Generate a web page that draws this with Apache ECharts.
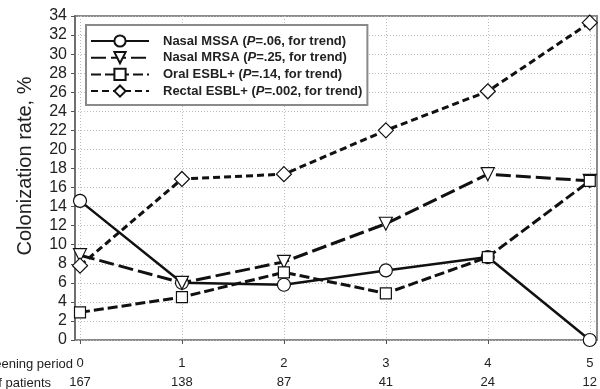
<!DOCTYPE html>
<html>
<head>
<meta charset="utf-8">
<script src="https://cdn.jsdelivr.net/npm/echarts@6/dist/echarts.min.js"></script>
<style>
html,body{margin:0;padding:0;background:#fff;}
#c{width:600px;height:389px;}
</style>
</head>
<body>
<div id="c"></div>
<script>
const categories = ['0', '1', '2', '3', '4', '5'];
const patients = ['167', '138', '87', '41', '24', '12'];
const seriesNames = ['Nasal MSSA', 'Nasal MRSA', 'Oral ESBL+', 'Rectal ESBL+'];
const pValues = ['.06', '.25', '.14', '.002'];
const nasalMSSA = [14.6, 6.0, 5.8, 7.3, 8.7, 0];
const nasalMRSA = [8.9, 6.0, 8.2, 12.2, 17.4, 16.7];
const oralESBL = [2.9, 4.5, 7.1, 4.9, 8.7, 16.7];
const rectalESBL = [7.8, 16.9, 17.4, 22.0, 26.1, 33.3];
const yMin = 0, yMax = 34, yStep = 2;

const FONT = '"Liberation Sans", Arial, sans-serif';
const chart = echarts.init(document.getElementById('c'), null, {renderer: 'canvas'});

const styles = [
  {symbol: 'circle', size: 13, rotate: 0, dash: 'solid', width: 2.5},
  {symbol: 'triangle', size: 13, rotate: 180, dash: [15, 5], width: 3},
  {symbol: 'rect', size: 11, rotate: 0, dash: [10, 4], width: 3},
  {symbol: 'diamond', size: 15, rotate: 0, dash: [7, 4], width: 3}
];
const allData = [nasalMSSA, nasalMRSA, oralESBL, rectalESBL];

const series = allData.map((d, i) => ({
  name: seriesNames[i],
  type: 'line',
  xAxisIndex: 1,
  yAxisIndex: 1,
  data: d,
  symbol: styles[i].symbol,
  symbolSize: styles[i].size,
  symbolRotate: styles[i].rotate,
  showAllSymbol: true,
  animation: false,
  lineStyle: {color: '#111', width: styles[i].width, type: styles[i].dash},
  itemStyle: {color: '#fff', borderColor: '#111', borderWidth: 1.2},
  emphasis: {disabled: true}
}));

const option = {
  backgroundColor: '#fff',
  animation: false,
  grid: [
    {left: 75, right: 3, top: 16, bottom: 49, show: true, borderColor: '#8a8a8a', borderWidth: 2, backgroundColor: 'transparent'},
    {left: 80, right: 8, top: 16, bottom: 49}
  ],
  xAxis: [
    {gridIndex: 0, type: 'value', min: 0, max: 1, show: false},
    {
      gridIndex: 1, type: 'category', boundaryGap: false, data: categories,
      axisLine: {show: false},
      axisTick: {show: true, length: 4, lineStyle: {color: '#555'}},
      splitLine: {show: true, lineStyle: {color: '#bdbdbd', type: [1, 2], width: 1}},
      axisLabel: {
        margin: 14,
        interval: 0,
        formatter: (v, idx) => '{a|' + v + '}\n{a|' + patients[idx] + '}',
        rich: {a: {fontFamily: FONT, fontSize: 13, color: '#222', lineHeight: 19}}
      }
    }
  ],
  yAxis: [
    {
      gridIndex: 0, type: 'value', min: yMin, max: yMax, interval: yStep,
      axisLine: {show: true, lineStyle: {color: '#666', width: 1.5}},
      axisTick: {show: true, length: 4, lineStyle: {color: '#555'}},
      axisLabel: {fontFamily: FONT, fontSize: 16, color: '#222', margin: 8},
      splitLine: {show: true, lineStyle: {color: '#bdbdbd', type: [1, 2], width: 1}}
    },
    {gridIndex: 1, type: 'value', min: yMin, max: yMax, show: false, splitLine: {show: false}}
  ],
  legend: {
    left: 86, top: 25, orient: 'vertical',
    data: seriesNames,
    itemWidth: 58, itemHeight: 14, itemGap: 2.7,
    padding: [9, 5, 7, 4],
    backgroundColor: '#fff', borderColor: '#8a8a8a', borderWidth: 2,
    selectedMode: false,
    formatter: (name) => {
      const i = seriesNames.indexOf(name);
      return '{b|' + name + ' (}{i|P}{b|=' + pValues[i] + ', for trend)}';
    },
    textStyle: {
      padding: [0, 0, 0, 9],
      lineHeight: 14,
      rich: {
        b: {fontFamily: FONT, fontSize: 13, fontWeight: 'bold', color: '#222', lineHeight: 14},
        i: {fontFamily: FONT, fontSize: 13, fontWeight: 'bold', fontStyle: 'italic', color: '#222', lineHeight: 14}
      }
    }
  },
  graphic: [
    {type: 'text', x: 25, y: 166, rotation: Math.PI / 2,
      style: {text: 'Colonization rate, %', font: '20px ' + FONT, fill: '#222', align: 'center', verticalAlign: 'middle'}},
    {type: 'text', x: 73, y: 364,
      style: {text: 'Screening period', font: '13px ' + FONT, fill: '#222', align: 'right', verticalAlign: 'middle'}},
    {type: 'text', x: 51, y: 383,
      style: {text: 'No. of patients', font: '13px ' + FONT, fill: '#222', align: 'right', verticalAlign: 'middle'}}
  ],
  series: series
};
chart.setOption(option);
</script>
</body>
</html>
